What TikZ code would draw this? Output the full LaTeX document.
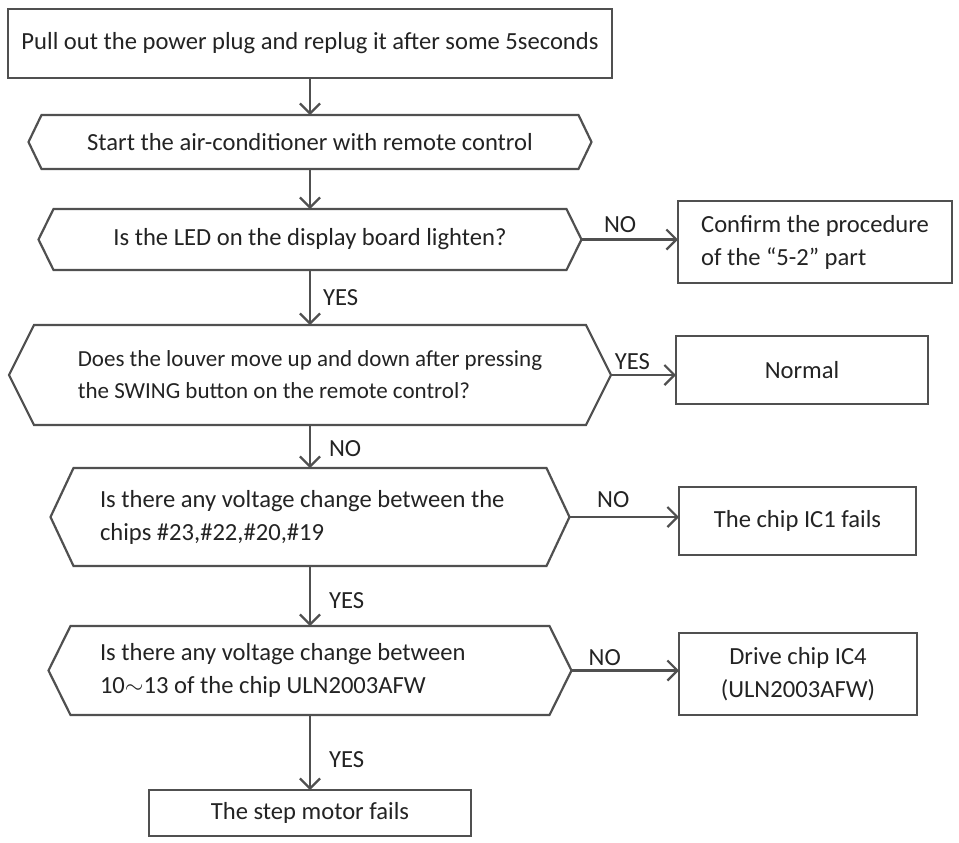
\documentclass[tikz,border=0pt]{standalone}
\usepackage{fontspec}
\setmainfont{Carlito}
\usetikzlibrary{arrows.meta}
\usetikzlibrary{positioning}
\definecolor{linegray}{RGB}{80,80,80}
\definecolor{textgray}{RGB}{35,35,35}
\tikzset{flow/.style = {draw=linegray, line width=1.1pt,
                        -{Straight Barb[length=5pt,width=10pt,line width=1.1pt]}}}
\tikzset{procbox/.style = {draw=linegray, line width=1.1pt, outer sep=0pt,
                           inner sep=0pt, align=center, text=textgray}}
\tikzset{hexa/.style = {outer sep=0pt, inner sep=0pt, align=center, text=textgray,
                        append after command={\pgfextra{
                          \let\hexnode\tikzlastnode
                          \draw[linegray, line width=1.1pt, line join=miter]
                            (\hexnode.west)
                            -- ([xshift=#1]\hexnode.north west)
                            -- ([xshift=-#1]\hexnode.north east)
                            -- (\hexnode.east)
                            -- ([xshift=-#1]\hexnode.south east)
                            -- ([xshift=#1]\hexnode.south west)
                            -- cycle;}}}}
\tikzset{lefttext/.style = {align=left, text width=210pt,
                            execute at begin node={\spaceskip=0pt\xspaceskip=0pt\relax}}}
\tikzset{lbl/.style = {inner sep=1pt, text=textgray}}

\begin{document}
\begin{tikzpicture}[x=0.5pt, y=-0.5pt, font=\fontsize{12.3pt}{16.5pt}\selectfont]
      \useasboundingbox (0,0) rectangle (959,842);
      % main column
      \node [procbox, minimum width=302pt, minimum height=34.5pt] (plug) at (310,43.5)
            {Pull out the power plug and replug it after some 5seconds};
      \node [hexa=6.5pt, minimum width=281.5pt, minimum height=27pt] (start) at (310,142)
            {Start the air-conditioner with remote control};
      \node [hexa=7.5pt, minimum width=271.5pt, minimum height=30.5pt] (led) at (310,239.5)
            {Is the LED on the display board lighten?};
      \node [hexa=12.5pt, minimum width=301pt, minimum height=50pt, align=left,
             font=\fontsize{11.5pt}{16pt}\selectfont] (louver) at (310,375)
            {Does the louver move up and down after pressing\\the SWING button on the remote control?};
      \node [hexa=11.5pt, minimum width=259.5pt, minimum height=49pt, lefttext] (chips) at (310,517)
            {\mbox{Is there any voltage change between the}\\\mbox{chips \#23,\#22,\#20,\#19}};
      \node [hexa=11pt, minimum width=261.5pt, minimum height=44.5pt, lefttext] (uln) at (310,670.5)
            {\mbox{Is there any voltage change between}\\\mbox{10$\sim$13 of the chip ULN2003AFW}};
      \node [procbox, minimum width=161pt, minimum height=23pt] (motor) at (310,813)
            {The step motor fails};
      % right column
      \node [procbox, minimum width=137pt, minimum height=41pt, align=left] (confirm) at (815,242)
            {Confirm the procedure\\of the “5-2” part};
      \node [procbox, minimum width=126pt, minimum height=34pt] (normal) at (802,370) {Normal};
      \node [procbox, minimum width=118.5pt, minimum height=34pt] (icone) at (797.5,521)
            {The chip IC1 fails};
      \node [procbox, minimum width=119pt, minimum height=41pt] (icfour) at (798,674)
            {Drive chip IC4\\(ULN2003AFW)};
      % connectors
      \draw [flow] (plug) -- (start);
      \draw [flow] (start) -- (led);
      \draw [flow] (led) -- (louver) node [lbl, right=5pt, pos=0.5] (yesled) {YES};
      \draw [flow] (led.east) -- (led.east -| confirm.west)
            node [lbl, above=2pt, pos=0.4] (noled) {NO};
      \draw [flow] (louver.east) -- (louver.east -| normal.west)
            node [lbl, above=1pt, pos=0.33] (yeslouver) {YES};
      \draw [flow] (louver) -- (chips) node [lbl, right=8pt, pos=0.55] (nolouver) {NO};
      \draw [flow] (chips.east) -- (chips.east -| icone.west)
            node [lbl, above=3pt, pos=0.4] (nochips) {NO};
      \draw [flow] (chips) -- (uln) node [lbl, right=8pt, pos=0.57] (yeschips) {YES};
      \draw [flow] (uln.east) -- (uln.east -| icfour.west)
            node [lbl, above=1pt, pos=0.31] (nouln) {NO};
      \draw [flow] (uln) -- (motor) node [lbl, right=8pt, pos=0.6] (yesuln) {YES};
\end{tikzpicture}
\end{document}
